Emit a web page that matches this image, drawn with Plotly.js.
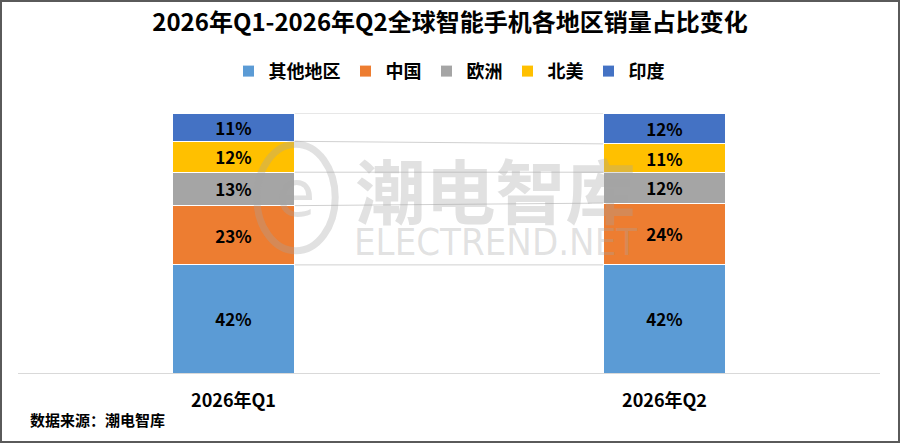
<!DOCTYPE html>
<html>
<head>
<meta charset="utf-8">
<script src="https://cdn.plot.ly/plotly-3.0.1.min.js"></script>
<style>
html, body { margin: 0; padding: 0; background: #fff; }
#chart { width: 900px; height: 443px; box-sizing: border-box; border: 2px solid #5a5a5a; }
</style>
</head>
<body>
<div id="chart"></div>
<script>
// Chart data, bottom segment first.
const quarters = ['2026年Q1', '2026年Q2'];
const regions = ['其他地区', '中国', '欧洲', '北美', '印度'];
const share_other = [42, 42];
const share_china = [23, 24];
const share_europe = [13, 12];
const share_na = [12, 11];
const share_india = [11, 12];
const colors = ['#5B9BD5', '#ED7D31', '#A5A5A5', '#FFC000', '#4472C4'];

const series = [share_other, share_china, share_europe, share_na, share_india];
const font_family = '"Noto Sans CJK SC", "Noto Sans", sans-serif';
const mark_color = 'rgba(165,165,165,0.33)';
const bargap = 0.715;
const x_pos = quarters.map((q, i) => i);

let traces = [];
// Stacked segments.
for (let k = 0; k < series.length; ++k) {
  traces.push({
    type: 'bar',
    x: x_pos,
    y: series[k],
    name: regions[k],
    marker: {color: colors[k], line: {color: '#ffffff', width: 1}},
    text: series[k].map(v => v + '%'),
    textposition: 'inside',
    insidetextanchor: 'middle',
    constraintext: 'none',
    textangle: 0,
    textfont: {family: font_family, size: 17, color: '#000000', weight: 'bold'},
    hoverinfo: 'name+y'
  });
}

// Connector lines between the two stacks at each cumulative level.
let half = (1 - bargap) / 2;
let cum = [0, 0];
for (let k = 0; k < series.length; ++k) {
  cum = cum.map((c, i) => c + series[k][i]);
  traces.push({
    type: 'scatter',
    mode: 'lines',
    x: [x_pos[0] + half, x_pos[1] - half],
    y: cum.slice(),
    line: {color: '#d0d0d0', width: 1},
    showlegend: false,
    hoverinfo: 'skip'
  });
}

// Watermark as one two-line text so the lines do not collide.
const mark_text = '<b style="font-size:70px">潮电智库</b><br>' +
  `<span style="font-size:38px;font-family:'DejaVu Sans Condensed','DejaVu Sans',sans-serif">ELECTREND.NET</span>`;

let layout = {
  width: 896,
  height: 439,
  margin: {l: 16, r: 18, t: 111, b: 68},
  paper_bgcolor: '#ffffff',
  plot_bgcolor: '#ffffff',
  barmode: 'stack',
  bargap: bargap,
  font: {family: font_family, color: '#000000'},
  title: {
    text: '<b>2026年Q1-2026年Q2全球智能手机各地区销量占比变化</b>',
    font: {family: font_family, size: 24, color: '#000000'},
    x: 0.5,
    xanchor: 'center',
    y: 0.952,
    yanchor: 'middle'
  },
  legend: {
    orientation: 'h',
    x: 0.5,
    xanchor: 'center',
    y: 1.16,
    yanchor: 'middle',
    traceorder: 'normal',
    itemwidth: 30,
    font: {family: font_family, size: 18, color: '#000000', weight: 'bold'}
  },
  xaxis: {
    range: [-0.5, 1.5],
    tickvals: x_pos,
    ticktext: quarters.map(q => '<b>' + q + '</b>'),
    tickfont: {family: font_family, size: 18, color: '#000000'},
    showgrid: false,
    zeroline: false,
    showline: true,
    linecolor: '#d9d9d9',
    linewidth: 1,
    ticks: '',
    ticklabelstandoff: 11
  },
  yaxis: {
    range: [0, 101],
    showgrid: false,
    zeroline: false,
    showticklabels: false,
    ticks: ''
  },
  // Watermark logo ring.
  shapes: [
    {
      type: 'circle',
      xref: 'paper', yref: 'paper',
      x0: 0.277, x1: 0.368, y0: 0.47, y1: 0.88,
      line: {color: mark_color, width: 7}
    }
  ],
  annotations: [
    {
      text: '<b>数据来源：潮电智库</b>',
      xref: 'paper', yref: 'paper',
      x: 0.012, y: -0.18,
      xanchor: 'left', yanchor: 'middle',
      showarrow: false,
      font: {family: font_family, size: 15, color: '#000000'}
    },
    {
      text: 'e',
      xref: 'paper', yref: 'paper',
      x: 0.322, y: 0.69,
      xanchor: 'center', yanchor: 'middle',
      showarrow: false,
      font: {family: '"DejaVu Sans", sans-serif', size: 64, color: mark_color}
    },
    {
      text: mark_text,
      xref: 'paper', yref: 'paper',
      x: 0.554, y: 0.66,
      xanchor: 'center', yanchor: 'middle',
      align: 'center',
      showarrow: false,
      font: {family: font_family, size: 28, color: mark_color}
    }
  ]
};

let config = {displayModeBar: false, responsive: false};
Plotly.newPlot('chart', traces, layout, config);
</script>
</body>
</html>
